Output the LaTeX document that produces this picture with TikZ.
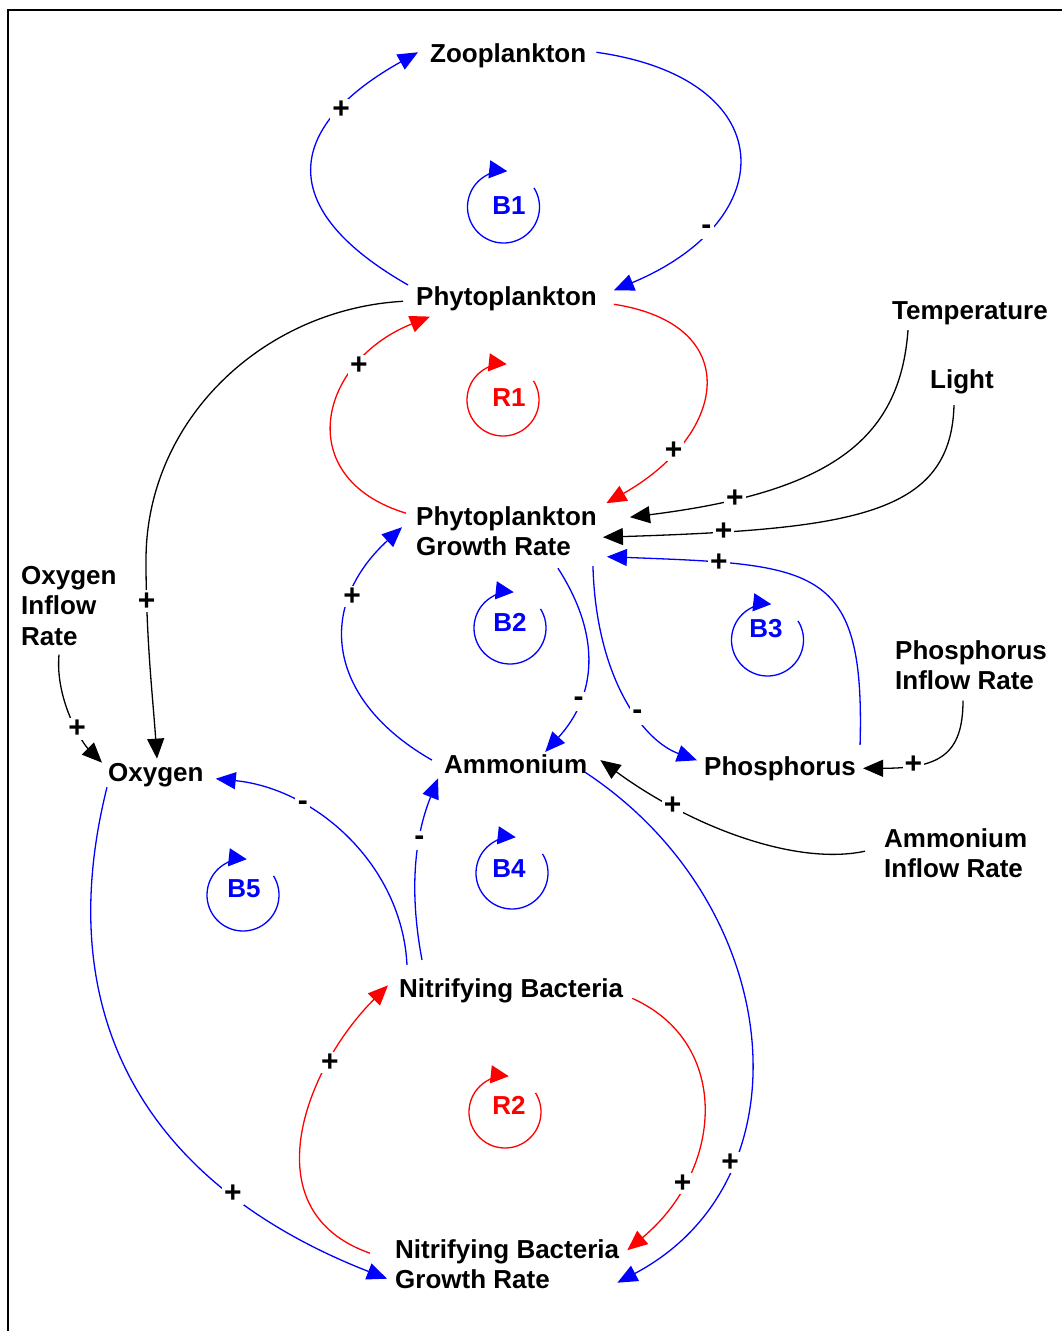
\documentclass[tikz,border=0pt]{standalone}
\usepackage{fontspec}
\setmainfont{Liberation Sans}
\usetikzlibrary{arrows.meta}
\tikzset{
  >={Triangle[length=20pt,width=17pt]},
  var/.style={font=\bfseries\fontsize{26}{30.5}\selectfont,inner sep=0pt,align=left},
  lnk/.style={->,line width=1.3pt},
  sgn/.style={font=\bfseries\fontsize{30}{30}\selectfont,fill=white,text=black,inner sep=2pt,minimum width=15pt,minimum height=19pt},
  lpline/.style={-{Triangle[length=18pt,width=18pt]},line width=1.3pt},
  lplab/.style={font=\bfseries\fontsize{26}{30}\selectfont,inner sep=0pt},
}
\begin{document}
\begin{tikzpicture}[x=1pt,y=-1pt]
\useasboundingbox (0,0) rectangle (1062,1331);
\draw[line width=2pt] (8,1331) -- (8,10) -- (1062,10);

% variables
\node[var,anchor=base west] (zoo) at (430,62) {Zooplankton};
\node[var,anchor=base west] (phy) at (416,305) {Phytoplankton};
\node[var,anchor=north west] (pgr) at (416,506.2) {Phytoplankton\\Growth Rate};
\node[var,anchor=base west] (temp) at (892,319) {Temperature};
\node[var,anchor=base west] (light) at (930,388) {Light};
\node[var,anchor=north west] (oir) at (21,565.8) {Oxygen\\Inflow\\Rate};
\node[var,anchor=base west] (oxy) at (108,781) {Oxygen};
\node[var,anchor=base west] (amm) at (444,773) {Ammonium};
\node[var,anchor=base west] (pho) at (704,775) {Phosphorus};
\node[var,anchor=north west] (pir) at (895,640.2) {Phosphorus\\Inflow Rate};
\node[var,anchor=north west] (air) at (884,828.2) {Ammonium\\Inflow Rate};
\node[var,anchor=base west] (nb) at (399,997) {Nitrifying Bacteria};
\node[var,anchor=north west] (nbgr) at (395,1239.2) {Nitrifying Bacteria\\Growth Rate};
\coordinate (obend) at (146,560);

% loop markers
\foreach \cx/\cy/\lx/\ly/\col/\txt in {503.5/207/509/206/blue/B1,503/400/509/398/red/R1,
  510/628/510/622/blue/B2,767.5/640/766/629/blue/B3,243/895/244/889/blue/B5,
  512/873/509/869/blue/B4,505/1112/509/1105/red/R2}{
  \draw[lpline,draw=\col] (\cx,\cy) ++(-32:36) arc[start angle=-32,end angle=276,radius=36];
  \node[lplab,text=\col] (lab\txt) at (\lx,\ly) {\txt};
}

% links
\draw[lnk,blue] ([shift={(-8,-1)}]phy.north west) .. controls +(-140,-80) and +(-127,71) .. ([shift={(-12,-3)}]zoo.west) node[sgn,pos=.74] (s1) {+};
\draw[lnk,blue] ([shift={(10,-3)}]zoo.east) .. controls +(185,26) and +(170,-71) .. ([shift={(17,-8)}]phy.east) node[sgn,pos=.76] (s2) {-};
\draw[lnk,red] ([shift={(-10,7)}]pgr.north west) .. controls +(-115,-35) and +(-112,45) .. ([shift={(14,6)}]phy.south west) node[sgn,pos=.73] (s3) {+};
\draw[lnk,red] ([shift={(17,6)}]phy.east) .. controls +(130,20) and +(123,-70) .. ([shift={(9.4,-3)}]pgr.north east) node[sgn,pos=.77] (s4) {+};
\draw[lnk] ([shift={(16,5.5)}]temp.south west) .. controls +(-8,110) and +(200,-25) .. ([shift={(33,-14)}]pgr.east) node[sgn,pos=.8] (s5) {+};
\draw[lnk] ([shift={(24,11.5)}]light.south west) .. controls +(-3,110) and +(250,-8) .. ([shift={(6,6)}]pgr.east) node[sgn,pos=.82] (s6) {+};
\draw[lnk,blue] ([shift={(4,-11)}]pho.north east) .. controls +(5,-180) and +(210,8) .. ([shift={(10,0.5)}]pgr.south east) node[sgn,pos=.79] (s7) {+};
\draw[lnk,blue] ([shift={(-39,12)}]pgr.south east) .. controls +(45,70) and +(50,-55) .. ([shift={(29.5,-2)}]amm.north) node[sgn,pos=.7] (s8) {-};
\draw[lnk,blue] ([shift={(-12,-3.6)}]amm.west) .. controls +(-105,-60) and +(-87,80) .. ([shift={(-14,-4)}]pgr.west) node[sgn,pos=.72] (s9) {+};
\draw[lnk,blue] ([shift={(-4,10)}]pgr.south east) .. controls +(3,110) and +(-55,-20) .. ([shift={(-7,-8)}]pho.west) node[sgn,pos=.6] (s10) {-};
\draw[lnk] ([shift={(68,10.5)}]pir.south west) .. controls +(0,55) and +(75,0) .. ([shift={(7,0)}]pho.east) node[sgn,pos=.73] (s11) {+};
\draw[lnk] ([shift={(-19,-2)}]air.west) .. controls +(-70,15) and +(90,66) .. ([shift={(13,-3.6)}]amm.east) node[sgn,pos=.74] (s12) {+};
\draw[lnk] ([shift={(-13,3)}]phy.west) .. controls +(-140,8) and +(0,-140) .. (obend)
  .. controls +(0,80) and +(-4,-60) .. ([shift={(49,-4)}]oxy.north west) node[sgn,pos=.18] (s13) {+};
\draw[lnk] ([shift={(38,9)}]oir.south west) .. controls +(-4,45) and +(-20,-20) .. ([shift={(-6,0)}]oxy.north west) node[sgn,pos=.6] (s14) {+};
\draw[lnk,blue] ([shift={(8,-13)}]nb.north west) .. controls +(-5,-100) and +(100,10) .. ([shift={(12,4)}]oxy.east) node[sgn,pos=.69] (s15) {-};
\draw[lnk,blue] ([shift={(23,-18)}]nb.north west) .. controls +(-15,-80) and +(-20,50) .. ([shift={(-6,5)}]amm.south west) node[sgn,pos=.6] (s16) {-};
\draw[lnk,blue] ([shift={(-2,-1)}]amm.south east) .. controls +(200,132) and +(195,-103) .. ([shift={(-2,-6.5)}]nbgr.south east) node[sgn,pos=.72] (s17) {+};
\draw[lnk,blue] ([shift={(-1,0.5)}]oxy.south west) .. controls +(-60,240) and +(-230,-90) .. ([shift={(-8,-10.5)}]nbgr.south west) node[sgn,pos=.74] (s18) {+};
\draw[lnk,red] ([shift={(9,8)}]nb.east) .. controls +(100,45) and +(96,-80) .. ([shift={(8,11)}]nbgr.north east) node[sgn,pos=.75] (s19) {+};
\draw[lnk,red] ([shift={(-25,-11)}]nbgr.west) .. controls +(-120,-42) and +(-83,83) .. ([shift={(-11,-5)}]nb.west) node[sgn,pos=.73] (s20) {+};
\end{tikzpicture}
\end{document}
